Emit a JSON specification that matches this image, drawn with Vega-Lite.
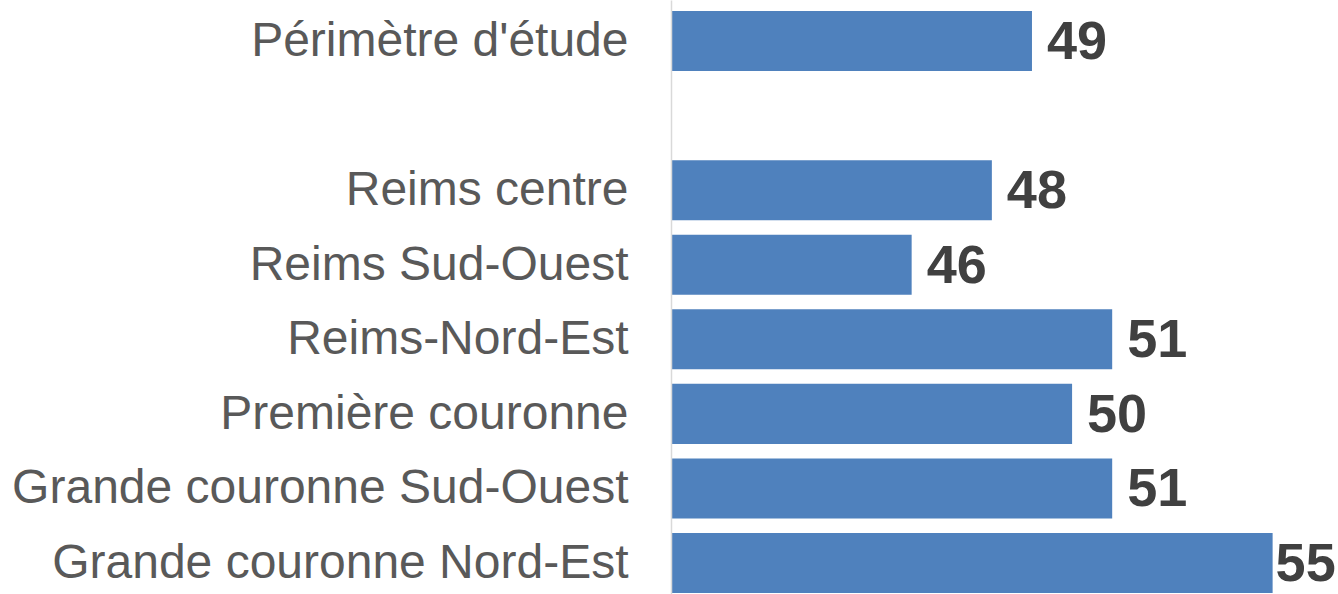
{
  "$schema": "https://vega.github.io/schema/vega-lite/v6.json",
  "autosize": "none",
  "width": 667,
  "height": 594,
  "padding": {"left": 671, "top": 0, "right": 0, "bottom": 0},
  "background": "white",
  "config": {"view": {"stroke": null}},
  "data": {"values": [
    {"zone": "Périmètre d'étude", "value": 49},
    {"zone": "Reims centre", "value": 48},
    {"zone": "Reims Sud-Ouest", "value": 46},
    {"zone": "Reims-Nord-Est", "value": 51},
    {"zone": "Première couronne", "value": 50},
    {"zone": "Grande couronne Sud-Ouest", "value": 51},
    {"zone": "Grande couronne Nord-Est", "value": 55}
  ]},
  "encoding": {
    "y": {
      "field": "zone", "type": "nominal",
      "scale": {
        "domain": ["Périmètre d'étude", " ", "Reims centre", "Reims Sud-Ouest", "Reims-Nord-Est", "Première couronne", "Grande couronne Sud-Ouest", "Grande couronne Nord-Est"],
        "paddingInner": 0.195, "paddingOuter": 0.08, "align": 0.92
      },
      "axis": {
        "title": null, "ticks": false, "labelPadding": 43, "labelOffset": 1,
        "labelFont": "Liberation Sans", "labelFontSize": 48, "labelColor": "#595959",
        "domainColor": "#d9d9d9", "domainWidth": 1.5, "labelLimit": 0, "zindex": 1
      }
    },
    "x": {
      "field": "value", "type": "quantitative",
      "scale": {"domain": [40, 56.63], "zero": false, "nice": false},
      "axis": null
    }
  },
  "layer": [
    {"mark": {"type": "bar", "color": "#4f81bd"}, "encoding": {"x2": {"datum": 40}}},
    {"transform": [{"filter": "datum.value < 55"}],
     "mark": {"type": "text", "align": "left", "baseline": "middle", "dx": 15, "dy": 2, "font": "Liberation Sans", "fontSize": 54, "fontWeight": "bold", "color": "#404040"},
     "encoding": {"text": {"field": "value", "type": "quantitative"}}},
    {"transform": [{"filter": "datum.value >= 55"}],
     "mark": {"type": "text", "align": "left", "baseline": "middle", "dx": 3, "dy": 2, "font": "Liberation Sans", "fontSize": 54, "fontWeight": "bold", "color": "#404040"},
     "encoding": {"text": {"field": "value", "type": "quantitative"}}}
  ]
}
